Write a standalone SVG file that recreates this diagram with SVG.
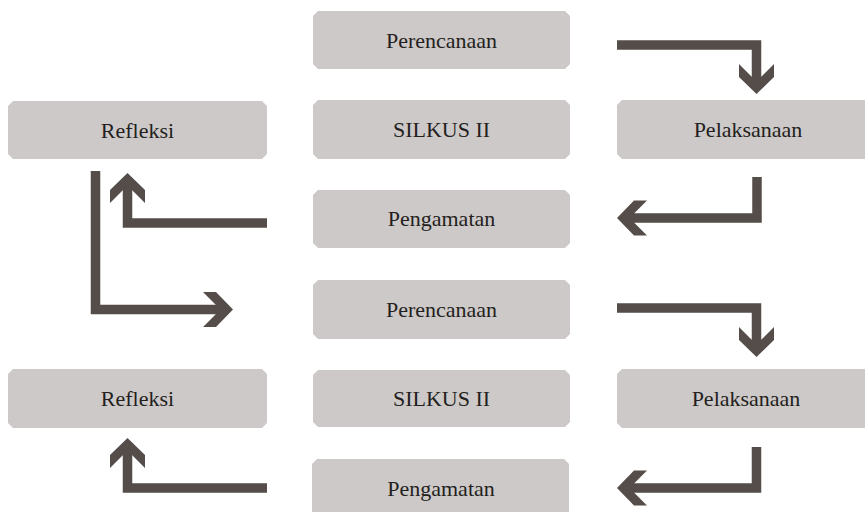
<svg xmlns="http://www.w3.org/2000/svg" xmlns:xlink="http://www.w3.org/1999/xlink" width="865" height="512" viewBox="0 0 865 512">
<style>
.box{fill:#CDC9C8;}
.lbl{font-family:'Liberation Serif',serif;font-size:22px;fill:#231F20;text-anchor:middle;}
.shaft{fill:none;stroke:#554D49;stroke-width:9.5;stroke-linejoin:miter;stroke-linecap:butt;}
.head{fill:#554D49;}
</style>
<defs>
<path id="ah" d="M0,0 L-17.5,-17 L-17.5,-30 L-4.75,-17.25 L4.75,-17.25 L17.5,-30 L17.5,-17 Z"/>
</defs>
<rect width="865" height="512" fill="#FFFFFF"/>
<g id="n-perencanaan1"><polygon class="box" points="318,11 565,11 570,16 570,64 565,69 318,69 313,64 313,16"/><text class="lbl" x="441.5" y="48">Perencanaan</text></g>
<g id="n-silkus1"><polygon class="box" points="318,100 565,100 570,105 570,154 565,159 318,159 313,154 313,105"/><text class="lbl" x="441.5" y="137">SILKUS II</text></g>
<g id="n-pengamatan1"><polygon class="box" points="318,190 565,190 570,195 570,243 565,248 318,248 313,243 313,195"/><text class="lbl" x="441.5" y="226">Pengamatan</text></g>
<g id="n-refleksi1"><polygon class="box" points="13,101 262,101 267,106 267,154 262,159 13,159 8,154 8,106"/><text class="lbl" x="137.5" y="138">Refleksi</text></g>
<g id="n-pelaksanaan1"><polygon class="box" points="622,100 869,100 874,105 874,154 869,159 622,159 617,154 617,105"/><text class="lbl" x="748" y="137">Pelaksanaan</text></g>
<g id="n-perencanaan2"><polygon class="box" points="318,280 565,280 570,285 570,334 565,339 318,339 313,334 313,285"/><text class="lbl" x="441.5" y="317">Perencanaan</text></g>
<g id="n-silkus2"><polygon class="box" points="318,370 565,370 570,375 570,422 565,427 318,427 313,422 313,375"/><text class="lbl" x="441.5" y="406">SILKUS II</text></g>
<g id="n-pengamatan2"><polygon class="box" points="317,459 564,459 569,464 569,512 564,517 317,517 312,512 312,464"/><text class="lbl" x="441" y="496">Pengamatan</text></g>
<g id="n-refleksi2"><polygon class="box" points="13,369 262,369 267,374 267,423 262,428 13,428 8,423 8,374"/><text class="lbl" x="137.5" y="406">Refleksi</text></g>
<g id="n-pelaksanaan2"><polygon class="box" points="622,369 869,369 874,374 874,423 869,428 622,428 617,423 617,374"/><text class="lbl" x="746" y="406">Pelaksanaan</text></g>
<g id="connectors">
<path class="shaft" d="M617,45 H756.5 V77"/>
<use class="head" xlink:href="#ah" transform="translate(756.5,94)"/>
<path class="shaft" d="M757,177 V218 H634"/>
<use class="head" xlink:href="#ah" transform="translate(617,218) rotate(90)"/>
<path class="shaft" d="M267,223 H127.5 V190"/>
<use class="head" xlink:href="#ah" transform="translate(127.5,173) rotate(180)"/>
<path class="shaft" d="M95.5,171 V309.5 H216"/>
<use class="head" xlink:href="#ah" transform="translate(233,309.5) rotate(-90)"/>
<path class="shaft" d="M617,308 H756.5 V340"/>
<use class="head" xlink:href="#ah" transform="translate(756.5,357)"/>
<path class="shaft" d="M756.5,447 V488 H634"/>
<use class="head" xlink:href="#ah" transform="translate(617,488) rotate(90)"/>
<path class="shaft" d="M267,488 H127.5 V455"/>
<use class="head" xlink:href="#ah" transform="translate(127.5,438) rotate(180)"/>
</g>
</svg>
